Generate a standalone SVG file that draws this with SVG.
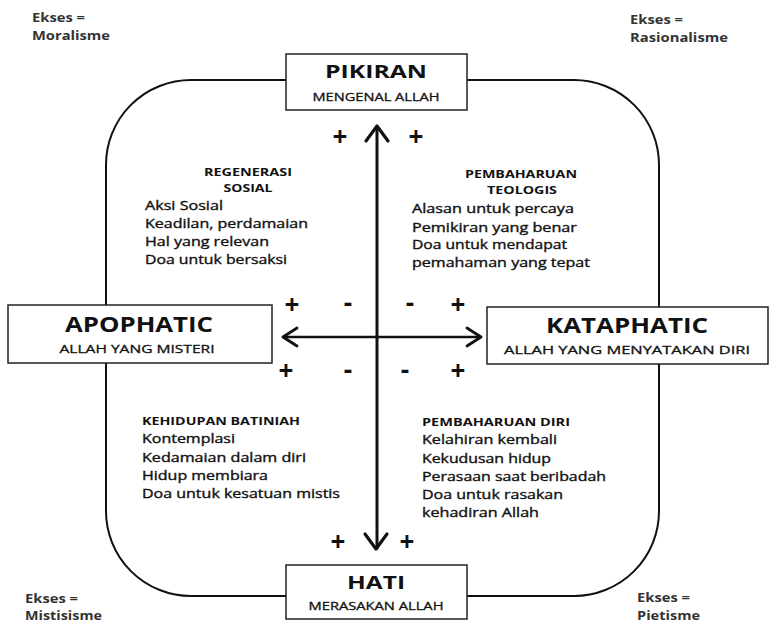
<svg xmlns="http://www.w3.org/2000/svg" width="770" height="624" viewBox="0 0 770 624">
<style>
.box{fill:#fff;stroke:#222;stroke-width:1.5}
.frame{fill:none;stroke:#111;stroke-width:2}
.ttl{font-family:"Open Sans","DejaVu Sans",sans-serif;font-weight:bold;fill:#111;text-anchor:middle}
.sub{font-family:"Open Sans","DejaVu Sans",sans-serif;fill:#111;stroke:#111;stroke-width:0.3;text-anchor:middle;font-size:11px}
.hd{font-family:"Open Sans","DejaVu Sans",sans-serif;font-weight:bold;fill:#111;font-size:10px}
.it{font-family:"Open Sans","DejaVu Sans",sans-serif;fill:#111;stroke:#111;stroke-width:0.35;font-size:12px}
.ex{font-family:"Open Sans","DejaVu Sans",sans-serif;font-weight:bold;fill:#333;font-size:12px}
.pm{font-family:"Open Sans","DejaVu Sans",sans-serif;font-weight:bold;fill:#111;font-size:26px;text-anchor:middle}
.ln{fill:none;stroke:#111;stroke-linecap:round;stroke-linejoin:round}
</style>
<rect width="770" height="624" fill="#fff"/>
<g id="frame">
<rect class="frame" x="106" y="80" width="553" height="516" rx="85" ry="85"/>
</g>
<g id="connectors">
<line class="ln" x1="377" y1="127" x2="377" y2="548" stroke-width="3"/>
<polyline class="ln" points="366,141 377,126 388,141" stroke-width="3.2"/>
<polyline class="ln" points="365,534 376,549 387,534" stroke-width="3.2"/>
<line class="ln" x1="283" y1="337" x2="481" y2="337" stroke-width="2.5"/>
<polyline class="ln" points="297,328 283,337 297,346" stroke-width="2.8"/>
<polyline class="ln" points="467,328 481,337 467,346" stroke-width="2.8"/>
</g>
<g id="signs">
<text class="pm" x="340" y="146">+</text>
<text class="pm" x="416" y="146">+</text>
<text class="pm" x="292" y="314">+</text>
<text class="pm" x="348" y="312">-</text>
<text class="pm" x="410" y="312">-</text>
<text class="pm" x="458" y="314">+</text>
<text class="pm" x="286" y="380">+</text>
<text class="pm" x="348" y="379">-</text>
<text class="pm" x="405" y="379">-</text>
<text class="pm" x="458" y="380">+</text>
<text class="pm" x="338" y="551">+</text>
<text class="pm" x="407" y="551">+</text>
</g>
<g id="pikiran">
<rect class="box" x="286" y="54" width="181" height="56"/>
<text class="ttl" x="376" y="78" font-size="18" textLength="102" lengthAdjust="spacingAndGlyphs">PIKIRAN</text>
<text class="sub" x="376" y="101" textLength="127" lengthAdjust="spacingAndGlyphs">MENGENAL ALLAH</text>
</g>
<g id="hati">
<rect class="box" x="286" y="565" width="181" height="54"/>
<text class="ttl" x="376" y="589" font-size="18" textLength="58" lengthAdjust="spacingAndGlyphs">HATI</text>
<text class="sub" x="376" y="610" textLength="135" lengthAdjust="spacingAndGlyphs">MERASAKAN ALLAH</text>
</g>
<g id="apophatic">
<rect class="box" x="8" y="305" width="264" height="58"/>
<text class="ttl" x="139" y="332" font-size="21" textLength="148" lengthAdjust="spacingAndGlyphs">APOPHATIC</text>
<text class="sub" x="137" y="353" textLength="155" lengthAdjust="spacingAndGlyphs">ALLAH YANG MISTERI</text>
</g>
<g id="kataphatic">
<rect class="box" x="487" y="307" width="281" height="57"/>
<text class="ttl" x="627" y="333" font-size="21" textLength="162" lengthAdjust="spacingAndGlyphs">KATAPHATIC</text>
<text class="sub" x="627" y="354" textLength="246" lengthAdjust="spacingAndGlyphs">ALLAH YANG MENYATAKAN DIRI</text>
</g>
<g id="regenerasi-sosial">
<text class="hd" x="248" y="176" text-anchor="middle" textLength="88" lengthAdjust="spacingAndGlyphs">REGENERASI</text>
<text class="hd" x="248" y="192" text-anchor="middle" textLength="49" lengthAdjust="spacingAndGlyphs">SOSIAL</text>
<text class="it" x="145" y="210" textLength="78" lengthAdjust="spacingAndGlyphs">Aksi Sosial</text>
<text class="it" x="145" y="228" textLength="163" lengthAdjust="spacingAndGlyphs">Keadilan, perdamaian</text>
<text class="it" x="145" y="246" textLength="124" lengthAdjust="spacingAndGlyphs">Hal yang relevan</text>
<text class="it" x="145" y="264" textLength="142" lengthAdjust="spacingAndGlyphs">Doa untuk bersaksi</text>
</g>
<g id="pembaharuan-teologis">
<text class="hd" x="521" y="178" text-anchor="middle" textLength="112" lengthAdjust="spacingAndGlyphs">PEMBAHARUAN</text>
<text class="hd" x="522" y="194" text-anchor="middle" textLength="70" lengthAdjust="spacingAndGlyphs">TEOLOGIS</text>
<text class="it" x="412" y="213" textLength="162" lengthAdjust="spacingAndGlyphs">Alasan untuk percaya</text>
<text class="it" x="412" y="232" textLength="165" lengthAdjust="spacingAndGlyphs">Pemikiran yang benar</text>
<text class="it" x="412" y="249" textLength="155" lengthAdjust="spacingAndGlyphs">Doa untuk mendapat</text>
<text class="it" x="412" y="267" textLength="178" lengthAdjust="spacingAndGlyphs">pemahaman yang tepat</text>
</g>
<g id="kehidupan-batiniah">
<text class="hd" x="142" y="425" textLength="158" lengthAdjust="spacingAndGlyphs">KEHIDUPAN BATINIAH</text>
<text class="it" x="142" y="443" textLength="93" lengthAdjust="spacingAndGlyphs">Kontemplasi</text>
<text class="it" x="142" y="462" textLength="164" lengthAdjust="spacingAndGlyphs">Kedamaian dalam diri</text>
<text class="it" x="142" y="480" textLength="126" lengthAdjust="spacingAndGlyphs">Hidup membiara</text>
<text class="it" x="142" y="498" textLength="198" lengthAdjust="spacingAndGlyphs">Doa untuk kesatuan mistis</text>
</g>
<g id="pembaharuan-diri">
<text class="hd" x="422" y="426" textLength="148" lengthAdjust="spacingAndGlyphs">PEMBAHARUAN DIRI</text>
<text class="it" x="422" y="444" textLength="135" lengthAdjust="spacingAndGlyphs">Kelahiran kembali</text>
<text class="it" x="422" y="463" textLength="129" lengthAdjust="spacingAndGlyphs">Kekudusan hidup</text>
<text class="it" x="422" y="481" textLength="184" lengthAdjust="spacingAndGlyphs">Perasaan saat beribadah</text>
<text class="it" x="422" y="499" textLength="141" lengthAdjust="spacingAndGlyphs">Doa untuk rasakan</text>
<text class="it" x="422" y="517" textLength="117" lengthAdjust="spacingAndGlyphs">kehadiran Allah</text>
</g>
<g id="ekses-moralisme">
<text class="ex" x="32" y="22" textLength="53" lengthAdjust="spacingAndGlyphs">Ekses =</text>
<text class="ex" x="32" y="40" textLength="78" lengthAdjust="spacingAndGlyphs">Moralisme</text>
</g>
<g id="ekses-rasionalisme">
<text class="ex" x="630" y="24" textLength="53" lengthAdjust="spacingAndGlyphs">Ekses =</text>
<text class="ex" x="630" y="42" textLength="98" lengthAdjust="spacingAndGlyphs">Rasionalisme</text>
</g>
<g id="ekses-mistisisme">
<text class="ex" x="25" y="603" textLength="53" lengthAdjust="spacingAndGlyphs">Ekses =</text>
<text class="ex" x="25" y="620" textLength="77" lengthAdjust="spacingAndGlyphs">Mistisisme</text>
</g>
<g id="ekses-pietisme">
<text class="ex" x="637" y="602" textLength="53" lengthAdjust="spacingAndGlyphs">Ekses =</text>
<text class="ex" x="637" y="620" textLength="63" lengthAdjust="spacingAndGlyphs">Pietisme</text>
</g>
</svg>
